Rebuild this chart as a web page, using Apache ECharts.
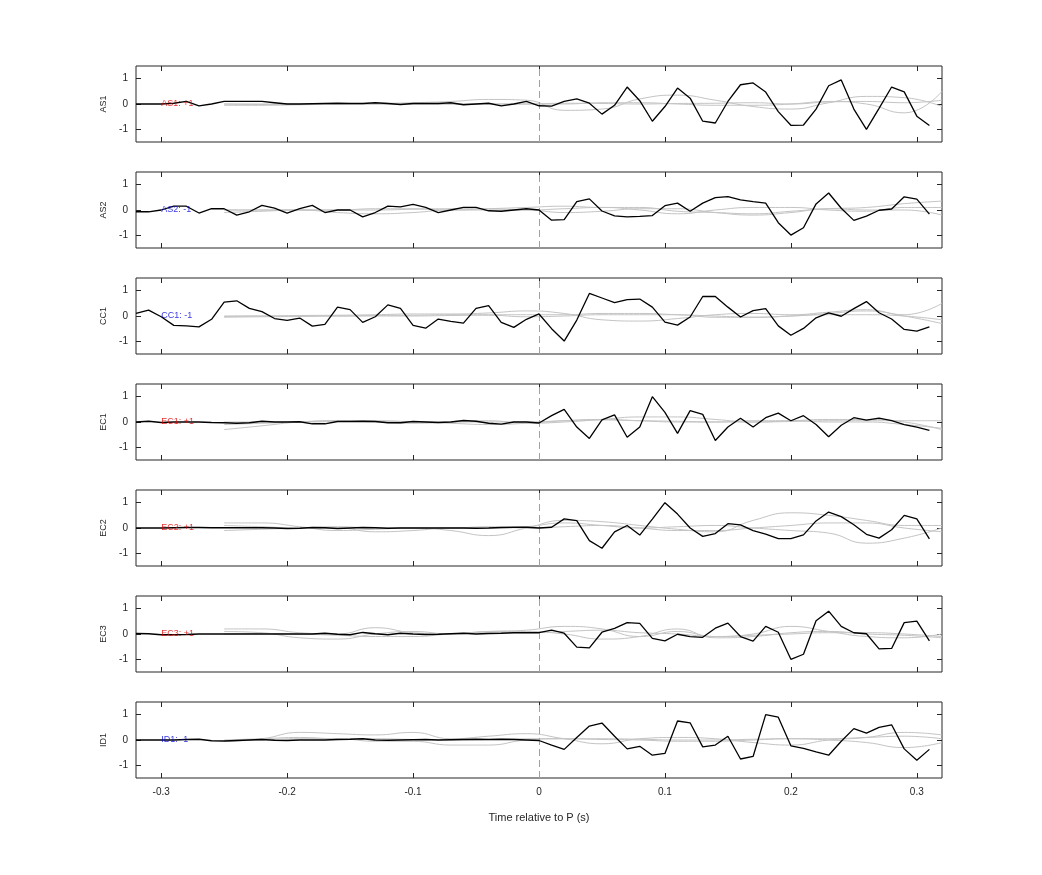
<!DOCTYPE html>
<html><head><meta charset="utf-8">
<script src="https://cdn.jsdelivr.net/npm/echarts@6/dist/echarts.min.js"></script>
<style>html,body{margin:0;padding:0;background:#fff}#c{width:1042px;height:875px}</style>
</head><body><div id="c"></div>
<script>
const stations = ['AS1','AS2','CC1','EC1','EC2','EC3','ID1'];
const polarityLabels = ['AS1: +1','AS2: -1','CC1: -1','EC1: +1','EC2: +1','EC3: +1','ID1: -1'];
const polarityColors = ['#e00000','#0000dd','#0000dd','#e00000','#e00000','#e00000','#0000dd'];
const tStart = -0.32, tStep = 0.01;
const grayStart = -0.25, grayStep = 0.03;

const AS1 = [0,0,0,0.03,0.1,-0.07,0,0.1,0.1,0.1,0.1,0.05,0,0,0.01,0.02,0.03,0.02,0.02,0.05,0.02,-0.02,0.02,0.02,0.02,0.05,-0.03,0,0.03,-0.07,0,0.1,
 -0.07,-0.08,0.1,0.2,0.03,-0.4,-0.05,0.67,0.13,-0.68,-0.1,0.63,0.23,-0.68,-0.75,0.1,0.76,0.83,0.47,-0.3,-0.84,-0.83,-0.2,0.72,0.95,-0.2,-1.0,-0.17,0.67,0.48,-0.48,-0.85];
const AS2 = [-0.07,-0.07,0,0.15,0.15,-0.12,0.05,0.05,-0.2,-0.07,0.18,0.07,-0.12,0.05,0.18,-0.1,0,0,-0.27,-0.1,0.15,0.12,0.22,0.1,-0.1,0,0.1,0.1,-0.03,-0.05,0,0.05,
 0,-0.4,-0.38,0.33,0.44,-0.04,-0.23,-0.27,-0.25,-0.22,0.17,0.27,-0.05,0.27,0.49,0.53,0.4,0.33,0.27,-0.5,-0.99,-0.7,0.24,0.67,0.07,-0.41,-0.24,-0.01,0.04,0.52,0.43,-0.16];
const CC1 = [0.1,0.23,-0.03,-0.37,-0.39,-0.43,-0.13,0.55,0.6,0.3,0.17,-0.1,-0.17,-0.08,-0.4,-0.33,0.35,0.25,-0.25,-0.03,0.44,0.3,-0.37,-0.48,-0.12,-0.21,-0.28,0.3,0.41,-0.25,-0.45,-0.13,
 0.08,-0.5,-0.99,-0.16,0.89,0.71,0.53,0.65,0.67,0.35,-0.24,-0.36,-0.04,0.77,0.77,0.35,-0.04,0.21,0.29,-0.39,-0.76,-0.49,-0.07,0.12,-0.01,0.29,0.57,0.13,-0.12,-0.53,-0.6,-0.43];
const EC1 = [0,0.03,-0.02,0,0,0,-0.02,-0.03,-0.05,-0.03,0.03,0,0,0.01,-0.07,-0.07,0.02,0.02,0.03,0.02,-0.03,-0.03,0.02,0,-0.02,0,0.06,0.03,-0.05,-0.08,0,0,
 -0.04,0.25,0.5,-0.2,-0.65,0.08,0.28,-0.6,-0.2,1.0,0.38,-0.45,0.45,0.3,-0.73,-0.2,0.15,-0.2,0.17,0.35,0.05,0.25,-0.1,-0.58,-0.13,0.17,0.07,0.15,0.05,-0.1,-0.2,-0.33];
const EC2 = [0,0,0,0.01,0.02,0.02,0.01,0.01,0.01,0.01,0.01,0,-0.02,-0.01,0.02,0.01,-0.02,0,0.02,0.01,-0.01,0,0,0,0,0,0,-0.01,0,0.02,0.03,0.03,
 0,0.03,0.36,0.29,-0.5,-0.8,-0.15,0.1,-0.28,0.35,1.0,0.55,0,-0.33,-0.22,0.17,0.12,-0.1,-0.24,-0.42,-0.42,-0.27,0.28,0.63,0.45,0.13,-0.25,-0.4,-0.07,0.5,0.36,-0.43];
const EC3 = [0.02,0.01,-0.03,-0.03,-0.02,0,0,0,0,0,0,0,0,0,0,0.03,-0.01,-0.03,0.06,0.01,-0.03,0.03,0,-0.02,-0.01,0.01,0.03,0,0.02,0.03,0.05,0.05,
 0.05,0.15,0.03,-0.52,-0.55,0.07,0.22,0.45,0.42,-0.17,-0.27,-0.01,-0.1,-0.13,0.23,0.43,-0.1,-0.28,0.3,0.07,-1.0,-0.8,0.52,0.9,0.3,0.05,0.01,-0.59,-0.57,0.45,0.51,-0.27];
const ID1 = [0,0,0,0,0.02,0.03,-0.03,-0.04,-0.02,0,0.02,-0.01,-0.02,0,0,0,0.02,0.03,0.05,0,-0.01,0,0.01,0.02,0,0.01,0.02,0.03,0.02,0.03,0.02,0,
 -0.02,-0.2,-0.37,0.1,0.55,0.67,0.15,-0.35,-0.25,-0.6,-0.53,0.75,0.68,-0.27,-0.2,0.15,-0.75,-0.65,1.0,0.9,-0.23,-0.33,-0.47,-0.6,-0.05,0.45,0.27,0.5,0.6,-0.35,-0.8,-0.37];

const grayAS1 = [
 [-0.05,-0.05,-0.03,0,0.02,0.05,0.1,0.18,0.15,-0.25,-0.2,0.2,0.35,0.15,-0.1,-0.2,0.05,0.3,0.25,-0.1],
 [0,0,0,0,0,0,0,0,0,0,0.05,0.05,0,-0.05,-0.05,0,0.1,0,-0.35,0.5],
 [0,-0.02,-0.02,0,0,0,0,0,0,0.03,0.02,0,0.02,0.03,0.05,0,0.08,0.1,0.05,0.15]];
const grayAS2 = [
 [-0.1,-0.05,0,0,0.05,0.05,0,0.05,0.1,0.15,0.1,0.1,-0.05,-0.1,-0.15,-0.05,0.05,0.1,0.25,0.35],
 [0,0,0,-0.1,-0.15,-0.1,0,0,0,-0.1,-0.05,0.05,0.05,-0.1,-0.2,-0.1,0.05,0,0,-0.2],
 [0,0,0,0,0,0.03,0.05,0.05,0,0.05,0.1,0,-0.15,0,0.1,0.1,0,-0.05,0.1,0.1]];
const grayCC1 = [
 [0,0,0.02,0.03,0.05,0.08,0.08,0.12,0.2,0.1,-0.15,-0.2,-0.1,0.05,0.1,0.05,0.15,0.25,0.05,0.5],
 [-0.02,0,0,0,0.02,0.03,0.05,0.05,0.05,0.05,0.1,0.1,0.05,0,-0.05,0,0.1,0.2,0,-0.3],
 [-0.05,-0.03,-0.02,0,0,0,0.02,0.03,-0.03,0,0.05,0.05,0.05,-0.05,-0.05,0,0.05,0.05,0,-0.15]];
const grayEC1 = [
 [-0.3,-0.15,0,0.05,0,-0.05,0,0.05,-0.05,0,0.1,0.2,0.2,0.1,0,0.05,0.1,0.1,0,-0.3],
 [-0.1,-0.05,0,0.05,0.05,0,-0.05,-0.1,-0.05,0.05,0.1,0.05,0,0,0.05,0.05,0,0,-0.1,-0.25],
 [0,0,0,0.02,0.03,0.02,0,0,0,0.05,0.08,0.05,0.03,0,0,0.02,0.05,0.05,0.05,0.05]];
const grayEC2 = [
 [0.2,0.2,0.05,-0.1,-0.05,0,-0.1,-0.3,0,0.3,0.25,0.1,-0.05,-0.15,0.3,0.6,0.5,0.3,0.1,0.1],
 [0.1,0.05,0,0,-0.15,-0.1,0,0,0.05,0.2,0.1,0,0.05,0.1,0,-0.1,-0.2,-0.6,-0.4,0],
 [-0.1,-0.05,0,0.05,0,0,0,0.05,0,0.05,0.1,0,-0.1,-0.1,0,0.1,0.2,0.2,0,-0.15]];
const grayEC3 = [
 [0.2,0.2,0.05,0,0.25,0.05,0,0.1,0.15,0.3,0.2,-0.1,0.1,-0.1,0,0.3,0.1,-0.1,-0.15,0],
 [0.1,0.05,-0.15,-0.2,0,0.1,0,0.1,0.1,0,-0.2,-0.1,0.2,-0.15,-0.1,0.05,0.1,0,-0.05,-0.15],
 [0,0.02,0,-0.05,-0.1,-0.1,0,0.05,0.05,0.1,0.15,0.05,0,-0.1,-0.05,0,0.05,0.05,0,-0.1]];
const grayID1 = [
 [-0.05,0.05,0.3,0.25,0.2,0.3,0.05,0.15,0.25,0.05,-0.15,0.05,0.1,0.05,-0.1,-0.2,0,0.1,0.3,0.2],
 [-0.05,0,0.05,0.05,-0.05,-0.05,-0.2,-0.2,0,0.05,0.02,0,-0.05,-0.05,0,0.05,0,-0.1,-0.3,-0.1],
 [0,0.05,0.1,0.05,0.05,0.02,0,0.02,0.05,0.05,0.05,0.03,0,0,0.03,0.05,0.05,0.1,0.15,0.05]];

const blackData = [AS1, AS2, CC1, EC1, EC2, EC3, ID1];
const grayData = [grayAS1, grayAS2, grayCC1, grayEC1, grayEC2, grayEC3, grayID1];
const xTickLabels = [-0.3,-0.2,-0.1,0,0.1,0.2,0.3];

const top0 = 66, gap = 106, h = 76;
const grids = [], xAxes = [], yAxes = [], series = [];
const axisColor = '#262626';
stations.forEach((name, k) => {
  const isLast = k === stations.length - 1;
  grids.push({left:136, right:100, top: top0 + gap*k, height: h, show:true, borderColor: axisColor, borderWidth:1, backgroundColor:'transparent'});
  const xCommon = {type:'value', gridIndex:k, min:-0.32, max:0.32,
    axisLine:{show:false, onZero:false}, splitLine:{show:false}};
  xAxes.push(Object.assign({}, xCommon, {position:'bottom',
    axisTick:{show:true, inside:true, length:5, lineStyle:{color:axisColor}, customValues: xTickLabels},
    axisLabel:{show:isLast, customValues: xTickLabels, color:'#262626', fontSize:10, fontFamily:'Liberation Sans', margin:9, formatter: v => String(+(+v).toFixed(2))},
    name: isLast ? 'Time relative to P (s)' : '', nameLocation:'middle', nameGap:34,
    nameTextStyle:{color:'#262626', fontSize:11, fontFamily:'Liberation Sans'}}));
  xAxes.push(Object.assign({}, xCommon, {position:'top',
    axisTick:{show:true, inside:true, length:5, lineStyle:{color:axisColor}, customValues: xTickLabels},
    axisLabel:{show:false}}));
  const yCommon = {type:'value', gridIndex:k, min:-1.5, max:1.5,
    axisLine:{show:false, onZero:false}, splitLine:{show:false},
    axisTick:{show:true, inside:true, length:5, lineStyle:{color:axisColor}, customValues:[-1,0,1]}};
  yAxes.push(Object.assign({}, yCommon, {position:'left',
    axisLabel:{show:true, customValues:[-1,0,1], color:'#262626', fontSize:10, fontFamily:'Liberation Sans', margin:8},
    name:name, nameLocation:'middle', nameGap:28, nameRotate:90,
    nameTextStyle:{color:'#262626', fontSize:9, fontFamily:'Liberation Sans'}}));
  yAxes.push(Object.assign({}, yCommon, {position:'right', axisLabel:{show:false}}));

  grayData[k].forEach(curve => {
    series.push({type:'line', xAxisIndex:2*k, yAxisIndex:2*k, smooth:0.5, symbol:'none',
      lineStyle:{color:'#c4c4c4', width:1}, silent:true, z:2,
      data: curve.map((v,i) => [grayStart + grayStep*i, v])});
  });
  series.push({type:'line', xAxisIndex:2*k, yAxisIndex:2*k, symbol:'none',
    lineStyle:{color:'#000', width:1.3}, z:5,
    data: blackData[k].map((v,i) => [+(tStart + tStep*i).toFixed(2), v]),
    markLine:{silent:true, symbol:'none', label:{show:false},
      lineStyle:{color:'#f08080', type:[7,4], width:1}, data:[{xAxis:0}]}});
  series.push({type:'scatter', xAxisIndex:2*k, yAxisIndex:2*k, symbol:'circle', symbolSize:0.01,
    itemStyle:{color:'rgba(0,0,0,0)'}, z:6, silent:true,
    data:[[-0.3,0]],
    label:{show:true, position:'right', distance:0, formatter: polarityLabels[k],
      color: polarityColors[k], fontSize:9, fontFamily:'Liberation Sans'}});
});

const chart = echarts.init(document.getElementById('c'));
chart.setOption({animation:false, backgroundColor:'#fff', grid:grids, xAxis:xAxes, yAxis:yAxes, series:series});
</script></body></html>
